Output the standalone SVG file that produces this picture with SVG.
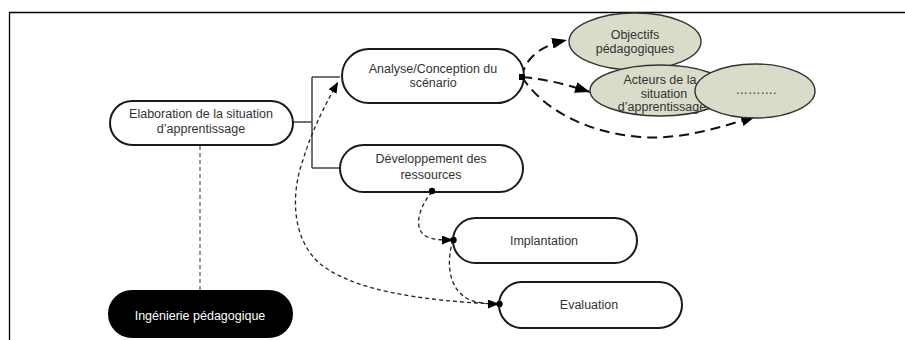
<svg xmlns="http://www.w3.org/2000/svg" width="905" height="340" viewBox="0 0 905 340">
<style>
.node{fill:#fff;stroke:#1a1a1a;stroke-width:2}
.dark{fill:#000;stroke:#000;stroke-width:2}
.ell{fill:#dadcca;stroke:#333;stroke-width:1.4}
.t{font-family:"Liberation Sans",Arial,sans-serif;font-size:12.5px;fill:#333;text-anchor:middle}
.tw{fill:#fff}
.bracket{fill:none;stroke:#444;stroke-width:1.5}
.thin{fill:none;stroke:#222;stroke-width:1.3;stroke-dasharray:4 3}
.gray{fill:none;stroke:#777;stroke-width:1.5;stroke-dasharray:4 3}
.thick{fill:none;stroke:#111;stroke-width:2;stroke-dasharray:10 6}
</style>
<defs>
<marker id="ah" markerUnits="userSpaceOnUse" markerWidth="11" markerHeight="9" refX="11" refY="4.5" orient="auto">
<path d="M0,0 L11,4.5 L0,9 z" fill="#000"/>
</marker>
<marker id="ahb" markerUnits="userSpaceOnUse" markerWidth="15" markerHeight="11" refX="15" refY="5.5" orient="auto">
<path d="M0,0 L15,5.5 L0,11 z" fill="#000"/>
</marker>
</defs>
<rect width="905" height="340" fill="#fff"/>
<path d="M9.5,340 V12.5 H905" fill="none" stroke="#000" stroke-width="1.3"/>

<g id="connectors">
<path class="bracket" d="M293,122 H312 M312,77 V168 M312,77 H340 M312,168 H339"/>
<path class="gray" d="M200,146 V291"/>
<path class="thin" d="M499,304 C420,301 350,290 318,262 C290,235 292,190 303,160 C312,130 325,105 338,82" marker-end="url(#ah)"/>
<path class="thin" d="M432,192 C420,205 410,232 430,238 C438,240 444,240 453,240" marker-end="url(#ah)"/>
<path class="thin" d="M453,240 C446,262 448,290 470,300 C478,303 488,304 499,304" marker-end="url(#ah)"/>
<path class="thick" d="M522,77 C525,58 540,46 567,40" marker-end="url(#ahb)"/>
<path class="thick" d="M522,77 C545,79 565,84 590,92" marker-end="url(#ahb)"/>
<path class="thick" d="M522,77 C540,105 580,132 640,137 C680,140 720,128 756,116" marker-end="url(#ahb)"/>
</g>

<g id="elaboration">
<rect class="node" x="110" y="101" width="183" height="44" rx="22"/>
<text class="t" x="201" y="118">Elaboration de la situation</text>
<text class="t" x="201" y="133">d’apprentissage</text>
</g>
<g id="analyse">
<rect class="node" x="342" y="49" width="182" height="54" rx="27"/>
<text class="t" x="433" y="73">Analyse/Conception du</text>
<text class="t" x="433" y="87">scénario</text>
<rect x="519" y="74" width="6" height="6" fill="#000"/>
</g>
<g id="developpement">
<rect class="node" x="340" y="145" width="183" height="47" rx="23.5"/>
<text class="t" x="431" y="163">Développement des</text>
<text class="t" x="431" y="179">ressources</text>
<circle cx="432" cy="191" r="3.2" fill="#000"/>
</g>
<g id="implantation">
<rect class="node" x="453" y="218" width="184" height="45" rx="22.5"/>
<text class="t" x="544" y="245">Implantation</text>
<circle cx="453.5" cy="240" r="3.2" fill="#000"/>
</g>
<g id="evaluation">
<rect class="node" x="499" y="282" width="183" height="46" rx="23"/>
<text class="t" x="589" y="309">Evaluation</text>
<circle cx="499.5" cy="304" r="3.2" fill="#000"/>
</g>
<g id="ingenierie">
<rect class="dark" x="109" y="291" width="183" height="46" rx="23"/>
<text class="t tw" x="200" y="320">Ingénierie pédagogique</text>
</g>
<g id="objectifs">
<ellipse class="ell" cx="635" cy="41.5" rx="66" ry="28.5"/>
<text class="t" x="635" y="39">Objectifs</text>
<text class="t" x="635" y="53">pédagogiques</text>
</g>
<g id="acteurs">
<ellipse class="ell" cx="660" cy="90.5" rx="70" ry="25.5"/>
<text class="t" x="660" y="84">Acteurs de la</text>
<text class="t" x="664" y="98">situation</text>
<text class="t" x="662" y="111">d’apprentissage</text>
</g>
<g id="autres">
<ellipse class="ell" cx="755" cy="91" rx="60" ry="27"/>
<text class="t" x="756" y="94">……….</text>
</g>
</svg>
